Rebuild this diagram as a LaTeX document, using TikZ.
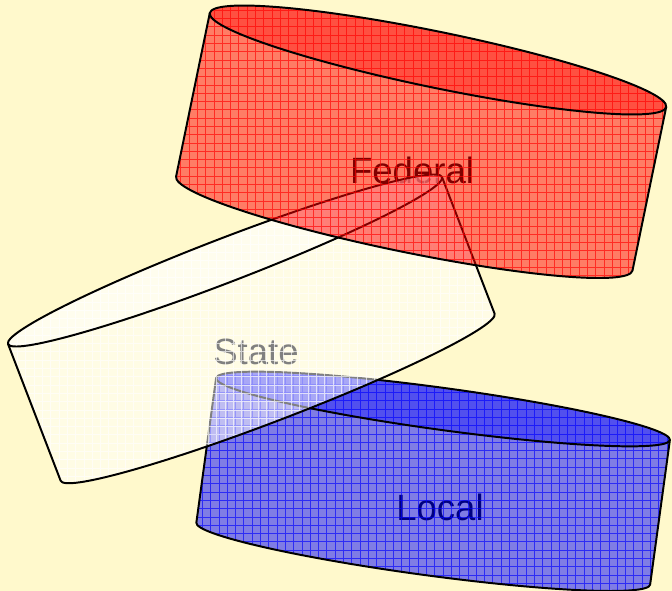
\documentclass[tikz,border=0pt]{standalone}
\usepackage{fontspec}
\setmainfont{Liberation Sans}
\usetikzlibrary{positioning}
\definecolor{page colour}{HTML}{FFF9CC}
\colorlet{federal colour}{red}
\colorlet{state colour}{white}
\colorlet{local colour}{blue}
\tikzset{
    % Fills and lines for the discs
    disc fill/.style={fill=#1, fill opacity=0.5},
    top fill/.style={fill=#1, fill opacity=0.35},
    disc grid/.style={draw=#1, opacity=0.65, line width=0.55pt},
    disc line/.style={draw=black, line width=1.4pt, line join=round},
%
    disc label/.style={font=\fontsize{26}{30}\selectfont, text=black},
}
% centre, angle, half width, half depth, height, colour, grid colour
\newcommand{\disc}[7]{%
    \begin{scope}[shift={#1}, rotate=#2]
        \begin{scope}
            \clip (-#3,0) -- (-#3,-#5)
                arc[start angle=180, end angle=360, x radius=#3, y radius=#4]
                -- (#3,0)
                arc[start angle=0, end angle=180, x radius=#3, y radius=#4]
                -- cycle;
            \fill [disc fill=#6] (-400,-400) rectangle (400,400);
            \fill [top fill=#6] (0,0) ellipse [x radius=#3, y radius=#4];
            \draw [disc grid=#7, rotate=-#2, step=8.3] (-400,-400) grid (400,400);
        \end{scope}
        \draw [disc line] (-#3,0) -- (-#3,-#5)
            arc[start angle=180, end angle=360, x radius=#3, y radius=#4]
            -- (#3,0);
        \draw [disc line] (0,0) ellipse [x radius=#3, y radius=#4];
    \end{scope}}

\begin{document}
\begin{tikzpicture}[x=0.025cm, y=0.025cm]

\fill [page colour] (0,0) rectangle (672,-591);
\useasboundingbox (0,0) rectangle (672,-591);

% Labels go in first, the discs tint them
\node [disc label] (federal) at (412,-170) {Federal};
\node [disc label] (state) at (256,-352) {State};
\node [disc label] (local) at (440,-507) {Local};

\disc{(443,-409)}{-7.78}{229}{21}{146}{local colour}{local colour}
\disc{(225,-260.5)}{21.05}{232.5}{22}{146.5}{state colour}{state colour}
\disc{(438,-60)}{-11.65}{233}{28}{167}{federal colour}{federal colour}

\end{tikzpicture}
\end{document}
